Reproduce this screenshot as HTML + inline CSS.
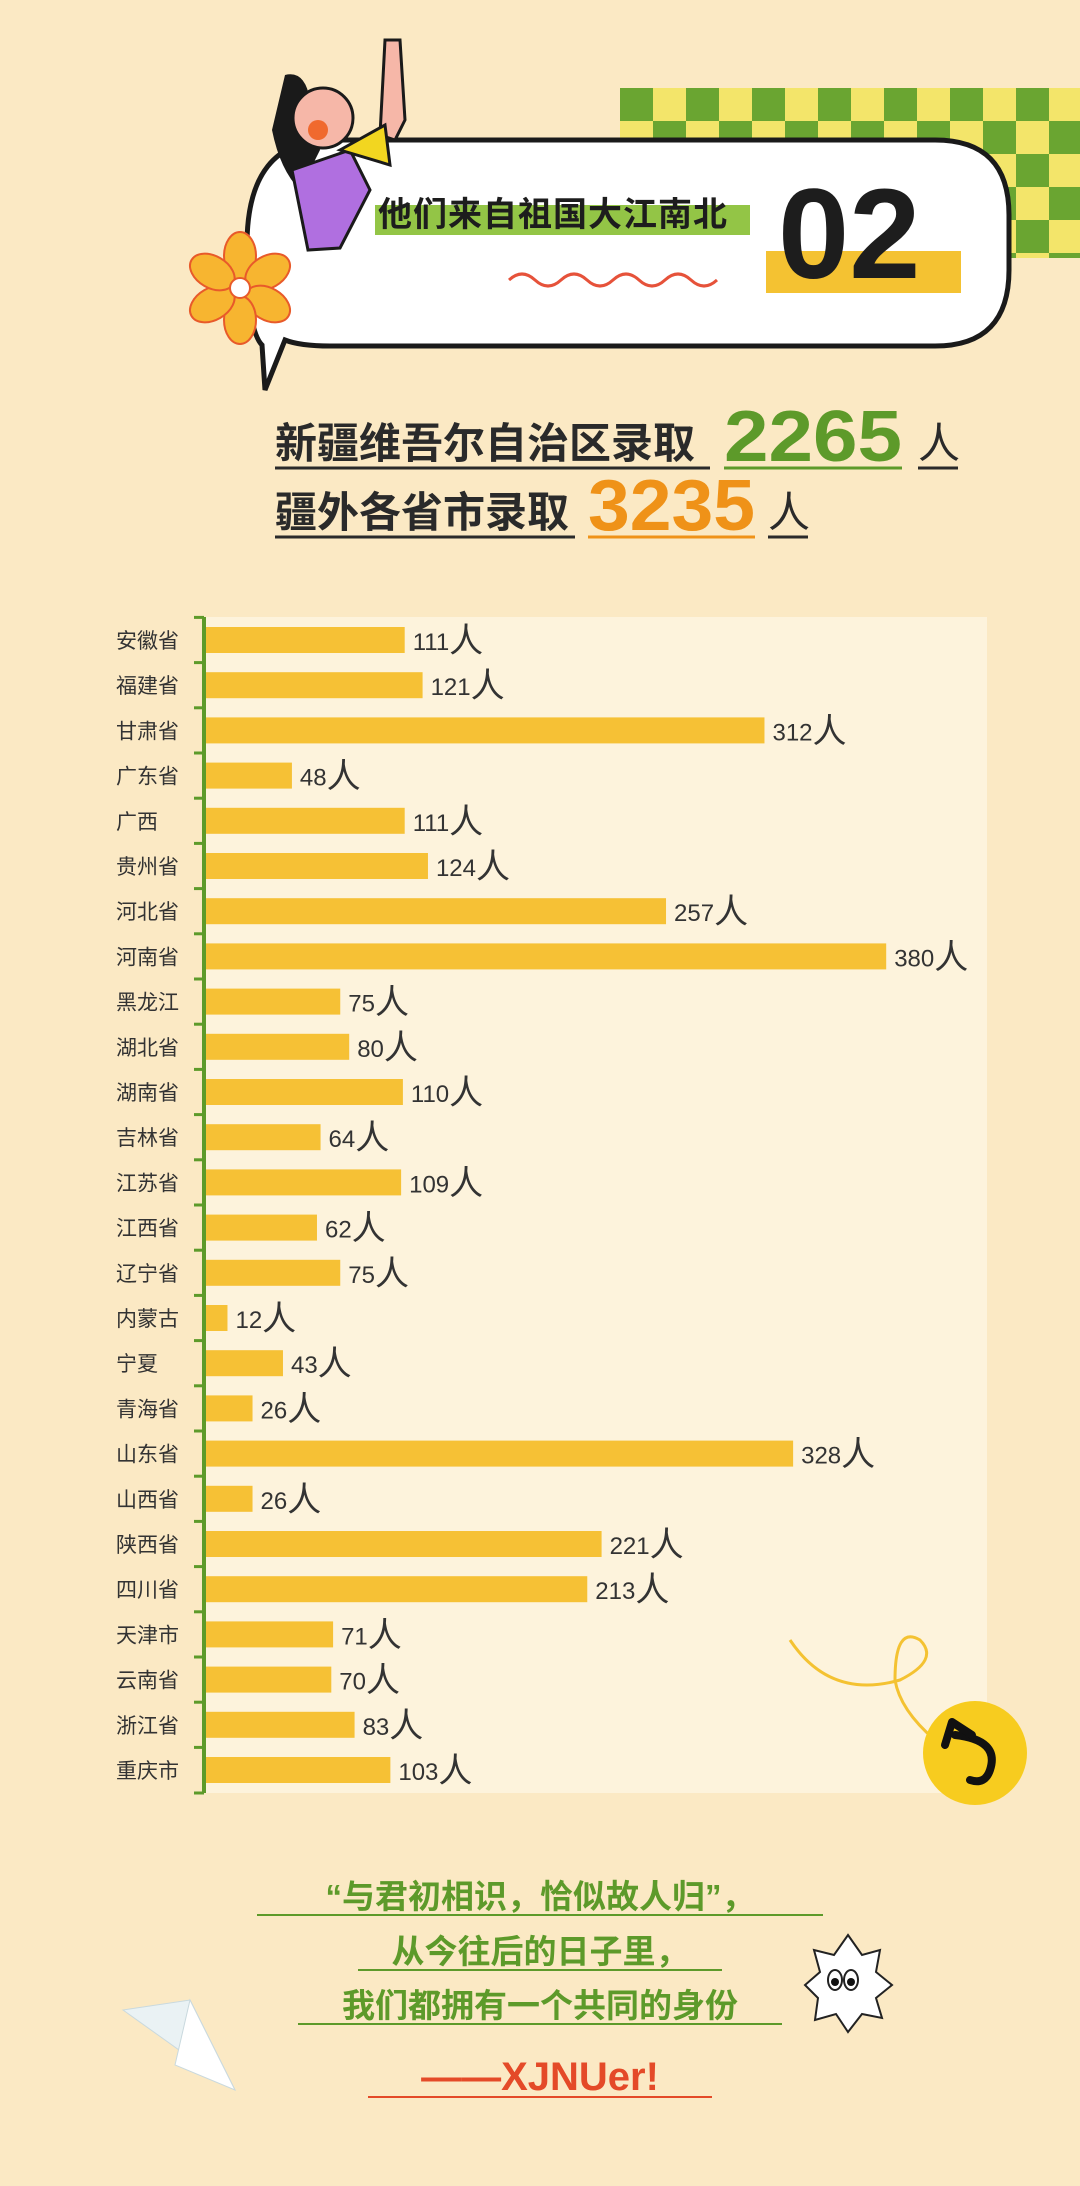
<!DOCTYPE html>
<html><head><meta charset="utf-8"><style>
html,body{margin:0;padding:0;background:#fbe9c4;}
svg{display:block}
</style></head><body>
<svg width="1080" height="2186" viewBox="0 0 1080 2186" xmlns="http://www.w3.org/2000/svg" font-family="'Liberation Sans','Noto Sans CJK SC',sans-serif">
<rect width="1080" height="2186" fill="#fbe9c4"/>
<!-- checkerboard -->
<rect x="620" y="88" width="460" height="170" fill="#f3e56a"/>
<g id="chk" fill="#6aa531"></g>
<!-- speech bubble -->
<path d="M330,140 L935,140 Q1009,140 1009,215 L1009,270 Q1009,346 935,346 L330,346 Q300,346 285,340 L265,390 L262,345 Q247,330 247,245 Q247,140 330,140 Z" fill="#fff" stroke="#1a1a1a" stroke-width="5"/>
<!-- girl -->
<path d="M285,75 Q305,70 310,100 L320,150 L300,190 Q280,170 272,130 Z" fill="#1a1a1a"/>
<circle cx="323" cy="118" r="30" fill="#f6b7a8" stroke="#1a1a1a" stroke-width="3"/>
<circle cx="318" cy="130" r="10" fill="#f0692e"/>
<path d="M292,170 L350,150 L370,190 L340,248 L308,250 Z" fill="#b06fe0" stroke="#1a1a1a" stroke-width="3"/>
<path d="M385,40 L400,40 L405,120 L395,140 L380,135 Z" fill="#f6b7a8" stroke="#1a1a1a" stroke-width="3"/>
<path d="M340,150 L385,125 L390,165 Z" fill="#f2d620" stroke="#1a1a1a" stroke-width="3"/>
<!-- title -->
<rect x="375" y="205" width="375" height="30" fill="#93c546"/>
<text x="378" y="226" font-size="34" font-weight="bold" fill="#1d1d1d" letter-spacing="1">他们来自祖国大江南北</text>
<rect x="766" y="251" width="195" height="42" fill="#f4c232"/>
<text x="778" y="278" font-size="128" font-weight="bold" fill="#1d1d1d">02</text>
<path d="M509,280 q13,-12 26,0 t26,0 t26,0 t26,0 t26,0 t26,0 t26,0 t26,0" fill="none" stroke="#e6523a" stroke-width="3"/>
<!-- flower -->
<g transform="translate(240,288)" fill="#f7b530" stroke="#e85a2a" stroke-width="2">
<ellipse cx="0" cy="-32" rx="16" ry="24"/><ellipse cx="0" cy="-32" rx="16" ry="24" transform="rotate(60)"/><ellipse cx="0" cy="-32" rx="16" ry="24" transform="rotate(120)"/><ellipse cx="0" cy="-32" rx="16" ry="24" transform="rotate(180)"/><ellipse cx="0" cy="-32" rx="16" ry="24" transform="rotate(240)"/><ellipse cx="0" cy="-32" rx="16" ry="24" transform="rotate(300)"/>
<circle r="10" fill="#fff"/>
</g>
<!-- summary -->
<text x="275" y="458" font-size="42" font-weight="bold" fill="#2a2a2a">新疆维吾尔自治区录取</text>
<line x1="275" y1="468" x2="710" y2="468" stroke="#2a2a2a" stroke-width="3"/>
<text x="724" y="461" font-size="72" font-weight="bold" fill="#5d9a2a" textLength="178" lengthAdjust="spacingAndGlyphs">2265</text>
<line x1="724" y1="468" x2="902" y2="468" stroke="#5d9a2a" stroke-width="3"/>
<text x="918" y="458" font-size="42" fill="#2a2a2a">人</text>
<line x1="918" y1="468" x2="958" y2="468" stroke="#2a2a2a" stroke-width="3"/>
<text x="275" y="527" font-size="42" font-weight="bold" fill="#2a2a2a">疆外各省市录取</text>
<line x1="275" y1="537" x2="575" y2="537" stroke="#2a2a2a" stroke-width="3"/>
<text x="588" y="530" font-size="72" font-weight="bold" fill="#ef9218" textLength="167" lengthAdjust="spacingAndGlyphs">3235</text>
<line x1="588" y1="537" x2="755" y2="537" stroke="#ef9218" stroke-width="3"/>
<text x="768" y="527" font-size="42" fill="#2a2a2a">人</text>
<line x1="768" y1="537" x2="808" y2="537" stroke="#2a2a2a" stroke-width="3"/>
<!-- chart panel -->
<rect x="206" y="617" width="781" height="1176" fill="#fdf3dc"/>
<line x1="204" y1="617" x2="204" y2="1793" stroke="#5d9a2a" stroke-width="4"/>
<g id="bars"></g>
<!-- yellow curl -->
<path d="M790,1640 Q830,1700 900,1680 Q940,1660 920,1640 Q895,1625 895,1680 Q900,1710 935,1740" fill="none" stroke="#f4c232" stroke-width="3"/>
<circle cx="975" cy="1753" r="52" fill="#f7cc1f"/>
<path d="M955,1735 Q1000,1740 990,1770 Q985,1785 970,1780" fill="none" stroke="#111" stroke-width="8" stroke-linecap="round"/>
<path d="M945,1745 L952,1722 L972,1735" fill="none" stroke="#111" stroke-width="8" stroke-linecap="round" stroke-linejoin="round"/>
<!-- bottom text -->
<g font-size="33" font-weight="bold" fill="#5d9a2a" text-anchor="middle">
<text x="540" y="1908">“与君初相识，恰似故人归”，</text>
<text x="540" y="1963">从今往后的日子里，</text>
<text x="540" y="2017">我们都拥有一个共同的身份</text>
</g>
<line x1="257" y1="1915" x2="823" y2="1915" stroke="#5d9a2a" stroke-width="2"/>
<line x1="358" y1="1970" x2="722" y2="1970" stroke="#5d9a2a" stroke-width="2"/>
<line x1="298" y1="2024" x2="782" y2="2024" stroke="#5d9a2a" stroke-width="2"/>
<text x="540" y="2090" font-size="40" font-weight="bold" fill="#e44a28" text-anchor="middle">——XJNUer!</text>
<line x1="368" y1="2097" x2="712" y2="2097" stroke="#e44a28" stroke-width="2"/>
<!-- plane -->
<path d="M123,2010 L235,2090 L190,2000 Z" fill="#eaf2f4" stroke="#c9d9de" stroke-width="1"/>
<path d="M190,2000 L175,2065 L235,2090 Z" fill="#fff" stroke="#c9d9de" stroke-width="1"/>
<!-- spiky blob -->
<path d="M848,1935 L862,1955 L880,1950 L876,1972 L892,1985 L876,1998 L882,2018 L862,2014 L848,2032 L836,2014 L815,2020 L818,1998 L805,1985 L820,1972 L814,1950 L834,1955 Z" fill="#fff" stroke="#222" stroke-width="2"/>
<ellipse cx="835" cy="1980" rx="7" ry="10" fill="#fff" stroke="#222" stroke-width="2"/><ellipse cx="851" cy="1980" rx="7" ry="10" fill="#fff" stroke="#222" stroke-width="2"/>
<circle cx="835" cy="1982" r="4" fill="#111"/><circle cx="851" cy="1982" r="4" fill="#111"/>
</svg>
<script>
var ck='';for(var r=0;r<6;r++)for(var c=0;c<14;c++){if((r+c)%2==0){var h=(r==5)?38-33+33:33;ck+='<rect x="'+(620+c*33)+'" y="'+(88+r*33)+'" width="33" height="'+(r==5?5:33)+'"/>';}}
document.getElementById('chk').innerHTML=ck;
var d=[["安徽省",111],["福建省",121],["甘肃省",312],["广东省",48],["广西",111],["贵州省",124],["河北省",257],["河南省",380],["黑龙江",75],["湖北省",80],["湖南省",110],["吉林省",64],["江苏省",109],["江西省",62],["辽宁省",75],["内蒙古",12],["宁夏",43],["青海省",26],["山东省",328],["山西省",26],["陕西省",221],["四川省",213],["天津市",71],["云南省",70],["浙江省",83],["重庆市",103]];
var g=document.getElementById('bars'),s='';
for(var i=0;i<d.length;i++){var c=640+45.2*i,w=d[i][1]*1.79;
s+='<line x1="194" x2="204" y1="'+(c-22.6)+'" y2="'+(c-22.6)+'" stroke="#5d9a2a" stroke-width="3"/>';
s+='<rect x="206" y="'+(c-13)+'" width="'+w+'" height="26" fill="#f6c135"/>';
s+='<text x="116" y="'+(c+8)+'" font-size="21" fill="#333">'+d[i][0]+'</text>';
s+='<text x="'+(214+w)+'" y="'+(c+10)+'" font-size="24" fill="#333" font-family="\'Liberation Sans Narrow\',\'Liberation Sans\',sans-serif">'+d[i][1]+'<tspan font-size="34" font-family="\'Noto Sans CJK SC\',sans-serif" dy="2">人</tspan></text>';}
s+='<line x1="194" x2="204" y1="1793" y2="1793" stroke="#5d9a2a" stroke-width="3"/>';
g.innerHTML=s;
</script>
</body></html>
